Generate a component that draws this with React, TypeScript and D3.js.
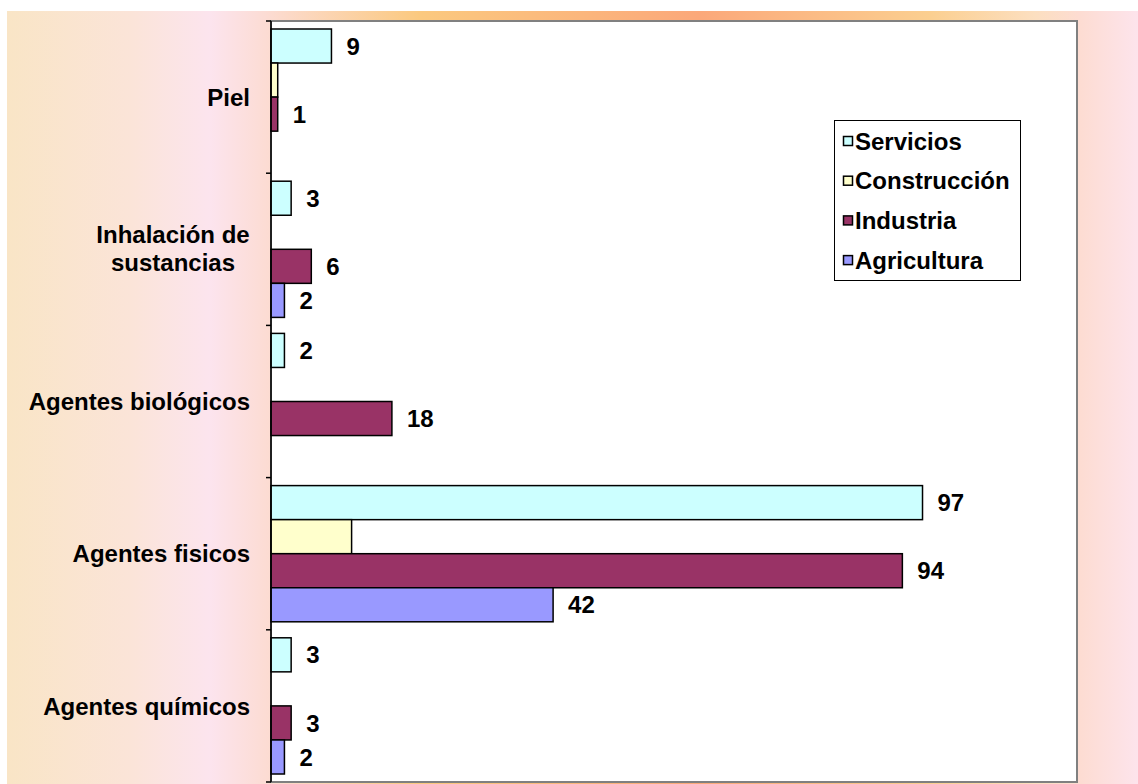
import { useEffect } from "react";
import { scaleBand, scaleLinear } from "d3";

// Data
const categories = [
  "Piel",
  "Inhalación de sustancias",
  "Agentes biológicos",
  "Agentes fisicos",
  "Agentes químicos",
];
const seriesNames = ["Servicios", "Construcción", "Industria", "Agricultura"];
const servicios = [9, 3, 2, 97, 3];
const construccion = [1, 0, 0, 12, 0];
const industria = [1, 6, 18, 94, 3];
const agricultura = [0, 2, 0, 42, 2];
const seriesValues = [servicios, construccion, industria, agricultura];
// Construcción has no data labels in the original
const showLabels = [true, false, true, true];

const colors = ["#ccffff", "#ffffcc", "#993366", "#9999ff"];
const font = "'Liberation Sans', Arial, sans-serif";
const fs = 24;

const W = 1138;
const H = 784;
const plot = { left: 271, top: 21, right: 1077, bottom: 782 };

export default function App() {
  useEffect(() => {
    document.body.style.margin = "0";
  }, []);

  // Scales
  const xScale = scaleLinear().domain([0, 120]).range([plot.left, plot.right]);
  const yScale = scaleBand<string>()
    .domain(categories)
    .range([plot.top, plot.bottom])
    .padding(0);
  const bw = yScale.bandwidth();
  const inner = scaleBand<string>()
    .domain(seriesNames)
    .range([8, bw - 8])
    .padding(0);

  const tickYs = [...categories.map((c) => yScale(c)!), plot.bottom];

  return (
    <svg width={W} height={H} style={{ display: "block" }}>
      <defs>
        <linearGradient id="bg" gradientUnits="userSpaceOnUse" x1={7} x2={W} y1={0} y2={0}>
          <stop offset={0} stopColor="#f9e5c6" />
          <stop offset={(130 - 7) / (W - 7)} stopColor="#fbe4d8" />
          <stop offset={(210 - 7) / (W - 7)} stopColor="#fce4ee" />
          <stop offset={(265 - 7) / (W - 7)} stopColor="#fcdcd4" />
          <stop offset={(420 - 7) / (W - 7)} stopColor="#fbc97f" />
          <stop offset={(700 - 7) / (W - 7)} stopColor="#fba87a" />
          <stop offset={(930 - 7) / (W - 7)} stopColor="#fbcf90" />
          <stop offset={(1035 - 7) / (W - 7)} stopColor="#fcdfc0" />
          <stop offset={(1080 - 7) / (W - 7)} stopColor="#fddcd2" />
          <stop offset={1} stopColor="#fde4ec" />
        </linearGradient>
      </defs>

      {/* slide background */}
      <rect x={0} y={0} width={W} height={H} fill="#ffffff" />
      <rect x={7} y={11} width={W - 7} height={H - 11} fill="url(#bg)" />

      {/* plot area */}
      <rect
        x={plot.left}
        y={plot.top}
        width={plot.right - plot.left}
        height={plot.bottom - plot.top}
        fill="#ffffff"
        stroke="#808080"
        strokeWidth={2}
      />

      {/* bars */}
      {categories.map((cat, ci) =>
        seriesNames.map((s, si) => {
          const v = seriesValues[si][ci];
          if (!v) return null;
          const y = yScale(cat)! + inner(s)!;
          const h = inner.bandwidth();
          const x1 = xScale(v);
          return (
            <g key={cat + s}>
              <rect
                x={xScale(0)}
                y={y}
                width={x1 - xScale(0)}
                height={h}
                fill={colors[si]}
                stroke="#000"
                strokeWidth={1.5}
              />
              {showLabels[si] && (
                <text
                  x={x1 + 15}
                  y={y + h / 2}
                  dy="0.36em"
                  fontFamily={font}
                  fontWeight="bold"
                  fontSize={fs}
                  fill="#000"
                >
                  {v}
                </text>
              )}
            </g>
          );
        })
      )}

      {/* left axis */}
      <line x1={plot.left} x2={plot.left} y1={plot.top} y2={plot.bottom} stroke="#000" strokeWidth={1.5} />
      {tickYs.map((ty, i) => (
        <line key={i} x1={plot.left - 5} x2={plot.left} y1={ty} y2={ty} stroke="#000" strokeWidth={1.5} />
      ))}

      {/* category labels */}
      {categories.map((cat) => {
        const cy = yScale(cat)! + bw / 2;
        if (cat === "Inhalación de sustancias") {
          return (
            <text
              key={cat}
              x={173}
              y={cy}
              textAnchor="middle"
              fontFamily={font}
              fontWeight="bold"
              fontSize={fs}
              fill="#000"
            >
              <tspan x={173} dy="-0.25em">Inhalación de</tspan>
              <tspan x={173} dy="1.17em">sustancias</tspan>
            </text>
          );
        }
        return (
          <text
            key={cat}
            x={250}
            y={cy}
            dy="0.36em"
            textAnchor="end"
            fontFamily={font}
            fontWeight="bold"
            fontSize={fs}
            fill="#000"
          >
            {cat}
          </text>
        );
      })}

      {/* legend */}
      <g>
        <rect x={834.5} y={120.5} width={186} height={160} fill="#ffffff" stroke="#000" strokeWidth={1} />
        {seriesNames.map((s, i) => {
          const ly = 141 + i * 39.7;
          return (
            <g key={s}>
              <rect x={843.5} y={ly - 4.5} width={9} height={9} fill={colors[i]} stroke="#000" strokeWidth={1.5} />
              <text
                x={855}
                y={ly}
                dy="0.36em"
                fontFamily={font}
                fontWeight="bold"
                fontSize={fs}
                fill="#000"
              >
                {s}
              </text>
            </g>
          );
        })}
      </g>
    </svg>
  );
}
